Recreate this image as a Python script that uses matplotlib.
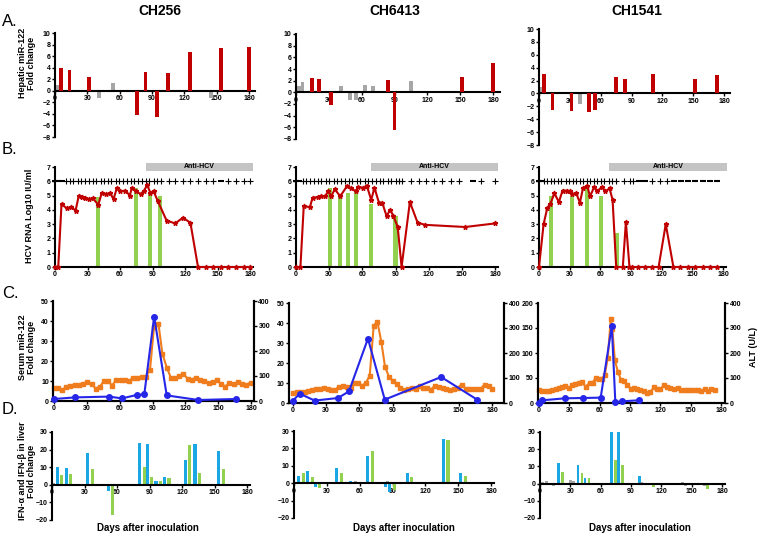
import matplotlib
matplotlib.use("Agg")
import matplotlib.pyplot as plt

plt.rcParams['font.family'] = ['Liberation Sans', 'DejaVu Sans']
plt.rcParams['font.weight'] = 'bold'
plt.rcParams['axes.linewidth'] = 1.5

W, H = 762, 539

# ---------------- data ----------------
animals = ["CH256", "CH6413", "CH1541"]
day_ticks = [0, 30, 60, 90, 120, 150, 180]

# A. hepatic miR-122 fold change (red = significant, gray = not)
a256_red_day = [5.5, 13.5, 31.5, 76, 84, 94.5, 105, 125, 154, 180]
a256_red_val = [4.0, 3.6, 2.3, -4.2, 3.3, -4.5, 3.1, 6.7, 7.4, 7.6]
a256_gray_day = [2, 41, 54, 145]
a256_gray_val = [1.0, -1.3, 1.4, -1.3]

a6413_red_day = [14.3, 21.3, 32, 84, 90, 152, 180]
a6413_red_val = [2.4, 2.3, -2.1, 2.1, -6.5, 2.7, 5.1]
a6413_gray_day = [2.4, 6, 41, 49, 55, 63, 70, 105]
a6413_gray_val = [1.0, 1.8, 1.1, -1.3, -1.3, 1.3, 1.1, 1.9]

a1541_red_day = [5, 13.3, 31.5, 48.7, 54.5, 74.7, 83.8, 110.7, 152, 173]
a1541_red_val = [3.0, -2.6, -2.7, -2.9, -2.6, 2.5, 2.2, 3.0, 2.2, 2.9]
a1541_gray_day = [2, 40]
a1541_gray_val = [1.0, -1.7]

# B. HCV RNA (log10 IU/ml)
b256_day = [0, 3, 6, 11, 15, 19, 22, 25, 28, 31, 35, 40, 43, 47, 51, 54, 57, 60, 65, 69,
            71, 75, 79, 82, 85, 88, 91, 95, 103, 111, 118, 125, 132, 139, 146, 153, 160,
            167, 174, 180]
b256_val = [0, 0, 4.4, 4.1, 4.2, 3.95, 5.0, 4.9, 4.8, 4.75, 4.8, 4.35, 5.15, 5.1, 5.15,
            4.75, 5.5, 5.3, 5.35, 5.0, 5.55, 5.3, 5.1, 5.3, 5.75, 5.2, 5.3, 4.6, 3.25, 3.05,
            3.45, 3.1, 0, 0, 0, 0, 0, 0, 0, 0]
b256_green_day = [40, 75, 88, 97]
b256_green_val = [4.9, 5.5, 5.2, 5.0]
b256_plus = [10, 14, 17, 21, 24, 28, 31, 35, 38, 42, 45, 49, 52, 56, 59, 63, 66, 70, 73,
             77, 80, 84, 87, 91, 94, 98, 105, 111, 118, 125, 132, 139, 146, 160, 167, 174, 180]
b256_minus = [0, 3, 6, 153]
b256_anti = [84, 183]

b6413_day = [0, 4, 7, 12.6, 15, 20, 23, 26.5, 29, 32, 35, 40, 46, 50, 54, 56, 61, 64, 68,
             71, 75, 78, 82, 85, 88, 92, 95.5, 103, 110, 117, 153, 180]
b6413_val = [0, 0, 4.25, 4.2, 4.85, 4.9, 4.95, 4.95, 5.3, 4.95, 5.45, 4.95, 5.65, 5.5, 5.3,
             5.6, 5.55, 5.7, 4.7, 5.55, 4.5, 4.5, 3.55, 4.0, 3.6, 2.8, 0, 4.55, 3.1, 2.95,
             2.8, 3.05]
b6413_green_day = [31, 40, 47, 54, 68, 90]
b6413_green_val = [5.5, 5.0, 5.2, 5.4, 4.4, 3.6]
b6413_plus = [6, 9, 13, 16, 20, 23, 27, 30, 34, 37, 41, 44, 48, 51, 55, 58, 62, 65, 69, 72,
              76, 79, 83, 86, 90, 93, 96, 104, 111, 118, 125, 132, 140, 147, 167, 180]
b6413_minus = [0, 3, 160]
b6413_anti = [68, 183]

b1541_day = [0, 4.5, 8, 11, 15, 19.5, 23, 27, 30, 32.5, 36.5, 40, 43, 47, 50, 54, 57, 61.5,
             65, 69, 72, 75.5, 82, 85, 88.5, 91, 97, 104, 111, 117, 124, 131.5, 138, 145.6,
             153, 160, 167, 174]
b1541_val = [0, 3.0, 4.1, 4.4, 5.15, 4.55, 5.35, 5.35, 5.3, 5.1, 5.15, 4.5, 5.5, 5.7, 4.95,
             5.6, 5.3, 5.6, 5.3, 5.5, 4.7, 0, 0, 3.15, 0, 0, 0, 0, 0, 0, 3.0, 0, 0, 0, 0, 0,
             0, 0]
b1541_green_day = [12, 32.5, 47, 61, 76]
b1541_green_val = [5.0, 5.0, 5.6, 5.0, 2.4]
b1541_plus = [5, 8, 12, 15, 19, 22, 26, 29, 33, 36, 40, 43, 47, 50, 54, 57, 61, 64, 68, 71,
              75, 83, 89, 92, 111, 118, 125]
b1541_minus = [0, 3, 98, 104, 132, 139, 146, 153, 160, 167, 174]
b1541_anti = [68, 184]

# C. serum miR-122 fold change (blue) and ALT U/L (orange)
c256_mir_day = [0, 19, 50.5, 62, 75.5, 82.5, 91.5, 103, 132, 166.7]
c256_mir_val = [1.0, 1.8, 2.2, 1.3, 3.0, 3.3, 42.2, 2.8, 0.5, 1.0]
c256_alt_day = [0, 3.7, 7.6, 11.3, 15, 19, 22.6, 26.6, 30.3, 34.3, 38, 42, 45.6, 49.5, 53,
                57, 60.9, 64.8, 68.5, 72.5, 76.1, 80, 83.8, 87.7, 91.4, 95.4, 99, 103, 106.7,
                110.7, 114.4, 118.3, 122, 126, 129.6, 133.6, 137.3, 141.3, 145, 149, 152.6,
                156.6, 160.2, 164.2, 167.9, 171.9, 175.5, 180]
c256_alt_val = [54, 54, 44, 58, 62, 66, 66, 70, 76, 70, 50, 58, 80, 80, 62, 86, 84, 86, 80,
                94, 94, 98, 98, 124, 298, 310, 190, 134, 94, 94, 100, 108, 90, 86, 94, 84,
                80, 74, 76, 84, 68, 58, 74, 68, 76, 70, 66, 74]

c6413_mir_day = [0, 6, 19.6, 40.7, 50.6, 67.8, 83, 134, 166.5]
c6413_mir_val = [1.2, 4.7, 1.2, 2.5, 5.8, 32.2, 1.7, 13.0, 1.7]
c6413_alt_day = [0, 3.6, 6.9, 10.6, 13.9, 17.5, 20.8, 24.4, 27.7, 31.4, 34.7, 38.3, 41.6,
                 45.2, 48.5, 52.2, 55.5, 59.1, 62.4, 66, 69.4, 73, 76.3, 79.9, 83.2, 86.8,
                 90.1, 93.7, 97.1, 100.7, 104, 107.6, 110.9, 114.6, 117.9, 121.5, 124.8,
                 128.4, 131.7, 135.3, 138.7, 142.3, 145.6, 149.2, 152.5, 156.1, 159.4, 163.1,
                 166.4, 170, 173.3, 176.9, 180.2]
c6413_alt_val = [42, 46, 46, 46, 50, 54, 58, 56, 62, 58, 54, 54, 66, 70, 64, 60, 82, 80,
                 70, 80, 110, 310, 326, 244, 146, 104, 90, 76, 62, 54, 56, 60, 58, 70, 60,
                 62, 54, 70, 66, 60, 58, 54, 58, 62, 74, 58, 56, 58, 56, 58, 74, 70, 58]

c1541_mir_day = [0, 3.3, 26, 43.5, 61, 72, 75.5, 82.4, 98.6]
c1541_mir_val = [0, 5.4, 9.4, 10, 10.7, 154, 1.3, 3.4, 5.4]
c1541_alt_day = [0, 3, 7, 10, 13, 17, 20, 23, 26, 30, 33, 36, 40, 43, 46, 50, 53, 56, 59,
                 62, 65, 68, 71, 72.5, 75, 78, 81, 84, 87, 91, 94, 97, 100, 104, 107, 110,
                 114, 117, 120, 124, 127, 130, 134, 137, 140, 144, 147, 150, 154, 157, 160,
                 164, 167, 170, 174]
c1541_alt_val = [51, 50, 48, 47, 54, 58, 60, 64, 67, 62, 71, 75, 80, 83, 64, 82, 80, 102,
                 98, 98, 111, 181, 337, 295, 172, 125, 94, 89, 71, 58, 62, 58, 54, 48, 40,
                 44, 64, 55, 55, 74, 66, 62, 56, 60, 54, 51, 54, 52, 54, 51, 47, 55, 48, 55,
                 51]

# D. IFN-alpha (blue) and IFN-beta (green) in liver, fold change
d256_day = [7, 15, 35, 54, 83, 90, 98, 106, 125, 134, 156]
d256_alpha = [10, 9.8, 17.8, -3.5, 23.5, 23, 2, 4.5, 14, 23, 19.3]
d256_beta = [5.5, 6.2, 8.7, -17, 10, 4.5, 2, 4, 22.5, 6.5, 9.2]
d256_gray_day = [1.5]
d256_gray_val = [1.2]

d6413_day = [6.5, 14.5, 21.5, 41, 54, 69.5, 86, 89.5, 105.5, 138.7, 154.3]
d6413_alpha = [4, 7.2, -2, 8.8, 1.5, 15.7, -2, -5, 5.8, 25.6, 5.8]
d6413_beta = [6, 3.5, -3, 6, 0, 18.5, 0, -4, 3.8, 25, 4.4]
d6413_gray_day = [56, 85.6]
d6413_gray_val = [1.2, 1.0]

d1541_day = [20, 39.5, 46.5, 72.5, 79.5]
d1541_alpha = [12, 11, 3, 30, 30]
d1541_beta = [6.5, 6, 3, 14, 11]
d1541_alpha_extra_day = [98]
d1541_alpha_extra_val = [4.5]
d1541_beta_extra_day = [112, 166]
d1541_beta_extra_val = [-2, -3]
d1541_gray_day = [2.6, 6.6, 13, 30, 33, 100, 141, 144, 163]
d1541_gray_val = [1.2, 1.8, -1.5, 2, 1.3, 1.2, 1.2, -1.5, -1.5]

RED = "#C00000"
GRAY = "#A6A6A6"
GREEN = "#92D050"
BLUE = "#2626E8"
ORANGE = "#EF7D1D"
CYAN = "#1BA6E4"
TICK_FS = 5

fig = plt.figure(figsize=(7.62, 5.39), dpi=100)


def make_ax(px0, px180, top, bottom, xlim, ylim):
    k = (px180 - px0) / 180.0
    left = px0 + xlim[0] * k
    right = px0 + xlim[1] * k
    ax = fig.add_axes([left / W, 1 - bottom / H, (right - left) / W, (bottom - top) / H])
    ax.set_xlim(xlim)
    ax.set_ylim(ylim)
    ax.set_facecolor("none")
    ax.tick_params(labelsize=TICK_FS, length=2, width=1, pad=1.2)
    return ax


def zero_axes(ax):
    ax.spines['top'].set_visible(False)
    ax.spines['right'].set_visible(False)
    ax.spines['bottom'].set_position(('data', 0))


# ---------------- row A ----------------
a_boxes = [(55, 249, 33, 137), (296, 493, 34, 139), (539, 724, 29, 145)]
a_red = [(a256_red_day, a256_red_val), (a6413_red_day, a6413_red_val), (a1541_red_day, a1541_red_val)]
a_gray = [(a256_gray_day, a256_gray_val), (a6413_gray_day, a6413_gray_val),
          (a1541_gray_day, a1541_gray_val)]
for i in range(3):
    ax = make_ax(*a_boxes[i], xlim=(0, 186), ylim=(-8, 10))
    zero_axes(ax)
    ax.bar(a_gray[i][0], a_gray[i][1], width=3.5, color=GRAY, zorder=2)
    ax.bar(a_red[i][0], a_red[i][1], width=3.5, color=RED, zorder=3)
    ax.set_xticks(day_ticks)
    ax.set_yticks(range(-8, 11, 2))

# ---------------- row B ----------------
b_boxes = [(55, 250, 167, 267), (296, 495, 167, 267), (539, 723, 167, 267)]
b_line = [(b256_day, b256_val), (b6413_day, b6413_val), (b1541_day, b1541_val)]
b_green = [(b256_green_day, b256_green_val), (b6413_green_day, b6413_green_val),
           (b1541_green_day, b1541_green_val)]
b_marks = [(b256_plus, b256_minus), (b6413_plus, b6413_minus), (b1541_plus, b1541_minus)]
b_antis = [b256_anti, b6413_anti, b1541_anti]
for i in range(3):
    ax = make_ax(*b_boxes[i], xlim=(0, 183), ylim=(0, 7))
    ax.spines['top'].set_visible(False)
    ax.spines['right'].set_visible(False)
    ax.bar(b_green[i][0], b_green[i][1], width=3.7, color=GREEN, zorder=2)
    ax.plot(b_line[i][0], b_line[i][1], color=RED, lw=1.5, marker='*', ms=3.5,
            zorder=4, clip_on=False)
    plus, minus = b_marks[i]
    ax.plot(plus, [6] * len(plus), '+', color='black', ms=3.8, mew=0.8, zorder=3, clip_on=False)
    ax.plot(minus, [6] * len(minus), '_', color='black', ms=4.5, mew=1.5, zorder=3, clip_on=False)
    s, e = b_antis[i]
    ax.fill_between([s, e], 6.75, 7.3, color="#C4C4C4", lw=0, clip_on=False, zorder=1)
    ax.text((s + e) / 2, 7.02, "Anti-HCV", fontsize=5, ha='center', va='center')
    ax.set_xticks(day_ticks)
    ax.set_yticks(range(0, 8))

# ---------------- row C ----------------
c_boxes = [(54, 251, 301, 401), (293, 492, 303, 403), (539, 721, 303, 403)]
c_xlims = [(-0.5, 182.7), (-3.6, 190.9), (-1, 184)]
c_ylims = [(0, 50), (0, 50), (0, 200)]
c_ysteps = [10, 10, 50]
c_mir = [(c256_mir_day, c256_mir_val), (c6413_mir_day, c6413_mir_val),
         (c1541_mir_day, c1541_mir_val)]
c_alt = [(c256_alt_day, c256_alt_val), (c6413_alt_day, c6413_alt_val),
         (c1541_alt_day, c1541_alt_val)]
for i in range(3):
    ax = make_ax(*c_boxes[i], xlim=c_xlims[i], ylim=c_ylims[i])
    ax.spines['top'].set_visible(False)
    ax2 = ax.twinx()
    ax2.set_ylim(0, 400)
    ax2.spines['top'].set_visible(False)
    ax2.tick_params(labelsize=TICK_FS, length=2, width=1, pad=1.2)
    ax2.set_yticks(range(0, 401, 100))
    ax2.plot(c_alt[i][0], c_alt[i][1], color=ORANGE, lw=1.5, marker='s', ms=3.5,
             clip_on=False, zorder=3)
    ax.set_zorder(ax2.get_zorder() + 1)
    ax.plot(c_mir[i][0], c_mir[i][1], color=BLUE, lw=1.5, marker='o', ms=4,
            clip_on=False, zorder=4)
    ax.set_xticks(day_ticks)
    ax.set_yticks(range(0, c_ylims[i][1] + 1, c_ysteps[i]))

# ---------------- row D ----------------
d_boxes = [(52, 247, 432, 520), (294, 491, 431, 518), (540, 722, 432, 518)]
d_groups = [(d256_day, d256_alpha, d256_beta), (d6413_day, d6413_alpha, d6413_beta),
            (d1541_day, d1541_alpha, d1541_beta)]
d_gray = [(d256_gray_day, d256_gray_val), (d6413_gray_day, d6413_gray_val),
          (d1541_gray_day, d1541_gray_val)]
for i in range(3):
    ax = make_ax(*d_boxes[i], xlim=(0, 183), ylim=(-20, 30))
    zero_axes(ax)
    days, alpha, beta = d_groups[i]
    ax.bar([d - 2.0 for d in days], alpha, width=2.8, color=CYAN, zorder=2)
    ax.bar([d + 2.0 for d in days], beta, width=2.8, color=GREEN, zorder=2)
    ax.bar(d_gray[i][0], d_gray[i][1], width=2.8, color=GRAY, zorder=2)
    if i == 2:
        ax.bar(d1541_alpha_extra_day, d1541_alpha_extra_val, width=2.8, color=CYAN, zorder=2)
        ax.bar(d1541_beta_extra_day, d1541_beta_extra_val, width=2.8, color=GREEN, zorder=2)
    ax.set_xticks(day_ticks)
    ax.set_yticks(range(-20, 31, 10))

# ---------------- labels ----------------
for name, x in zip(animals, [160, 395, 637]):
    fig.text(x / W, 1 - 11 / H, name, fontsize=10, ha='center', va='center')
for lab, y in zip(["A.", "B.", "C.", "D."], [21, 150, 293, 409]):
    fig.text(2 / W, 1 - y / H, lab, fontsize=12, fontweight='normal', ha='left', va='center')
for x in [148, 404, 640]:
    fig.text(x / W, 1 - 528 / H, "Days after inoculation", fontsize=7, ha='center', va='center')

fig.text(27 / W, 1 - 63 / H, "Hepatic miR-122\nFold change", fontsize=6.5, rotation=90,
         ha='center', va='center', linespacing=1.0)
fig.text(30 / W, 1 - 216 / H, "HCV RNA Log10 IU/ml", fontsize=6.5, rotation=90,
         ha='center', va='center')
fig.text(27 / W, 1 - 347 / H, "Serum miR-122\nFold change", fontsize=6.5, rotation=90,
         ha='center', va='center', linespacing=1.0)
fig.text(27 / W, 1 - 471 / H, "IFN-\u03b1 and IFN-\u03b2 in liver\nFold change", fontsize=6.5,
         rotation=90, ha='center', va='center', linespacing=1.0)
fig.text(754 / W, 1 - 347 / H, "ALT (U/L)", fontsize=6.5, rotation=90, ha='center', va='center')

fig.savefig("out.png", dpi=100)
